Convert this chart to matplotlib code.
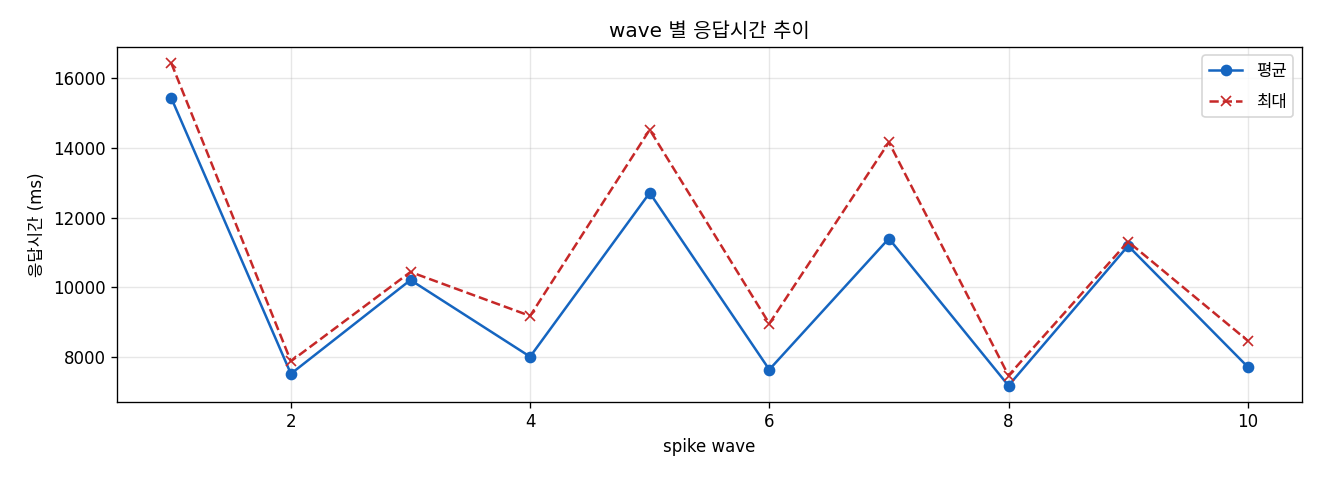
import matplotlib
matplotlib.use("Agg")
import matplotlib.pyplot as plt

plt.rcParams['font.family'] = ['DejaVu Sans', 'Noto Sans CJK KR']
plt.rcParams['axes.unicode_minus'] = False

waves = [1, 2, 3, 4, 5, 6, 7, 8, 9, 10]
avg_ms = [15430, 7520, 10210, 8010, 12710, 7640, 11400, 7180, 11190, 7720]
max_ms = [16430, 7880, 10440, 9180, 14520, 8960, 14160, 7470, 11310, 8470]

fig, ax = plt.subplots(figsize=(11, 4), dpi=120)
ax.plot(waves, avg_ms, marker='o', color='#1565C0', label='평균')
ax.plot(waves, max_ms, marker='x', linestyle='--', color='#C62828', label='최대')
ax.set_title('wave 별 응답시간 추이')
ax.set_xlabel('spike wave')
ax.set_ylabel('응답시간 (ms)')
ax.grid(True, alpha=0.3)
ax.legend(labelspacing=0.75)
fig.subplots_adjust(left=0.089, right=0.986, top=0.902, bottom=0.163)
fig.savefig('out.png')
